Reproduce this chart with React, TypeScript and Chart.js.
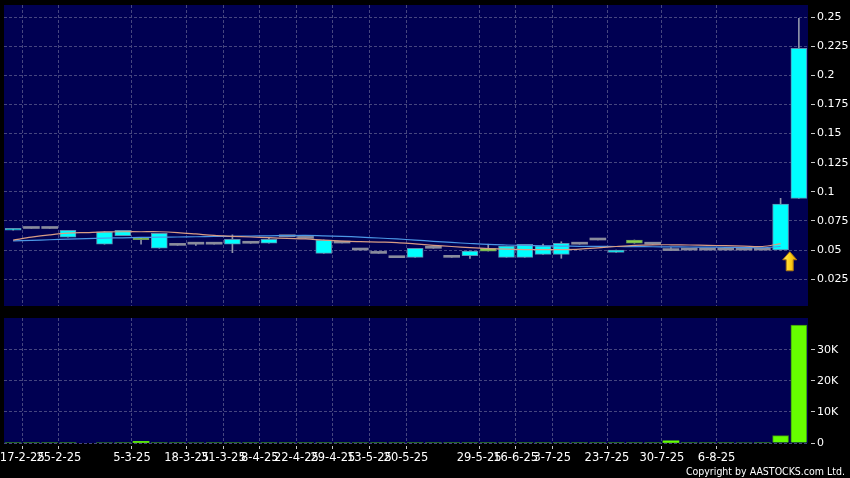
import React, { useEffect, useRef } from 'react';
import { Chart, registerables } from 'chart.js';

Chart.register(...registerables);

// ---- data ----
const SLOT_COUNT = 44;
const OPEN: (number | null)[] = [
  0.067, 0.0685, 0.0685, 0.061, null, 0.055, 0.0623, 0.0606, 0.0515, 0.054,
  0.055, 0.055, 0.055, 0.0558, 0.0558, 0.0614, 0.06, 0.0471, 0.056, 0.05,
  0.0471, 0.0434, 0.0437, 0.0515, 0.0437, 0.0451, 0.0515, 0.0437, 0.0437, 0.0463,
  0.0463, 0.055, 0.0586, 0.048, 0.0586, 0.055, 0.0495, 0.05, 0.05, 0.05,
  0.05, 0.05, 0.05, 0.0944,
];
const CLOSE: (number | null)[] = [
  0.0685, 0.0685, 0.0685, 0.067, null, 0.0657, 0.0669, 0.0588, 0.0643, 0.054,
  0.055, 0.055, 0.0592, 0.0558, 0.0592, 0.0614, 0.06, 0.0586, 0.056, 0.05,
  0.0471, 0.0434, 0.0514, 0.0515, 0.0437, 0.0491, 0.0491, 0.0534, 0.0549, 0.0537,
  0.0558, 0.055, 0.0586, 0.05, 0.0558, 0.055, 0.0495, 0.05, 0.05, 0.05,
  0.05, 0.05, 0.0895, 0.2232,
];
const HIGH: (number | null)[] = [
  0.0685, 0.0685, 0.0685, 0.067, null, 0.0657, 0.0669, 0.0606, 0.0643, 0.054,
  0.055, 0.055, 0.063, 0.0558, 0.0603, 0.0614, 0.06, 0.0586, 0.056, 0.05,
  0.0471, 0.0434, 0.0514, 0.0515, 0.0437, 0.0491, 0.055, 0.0534, 0.0549, 0.055,
  0.0571, 0.055, 0.0586, 0.05, 0.0586, 0.055, 0.052, 0.05, 0.05, 0.05,
  0.05, 0.05, 0.0944, 0.249,
];
const LOW: (number | null)[] = [
  0.067, 0.0685, 0.0685, 0.061, null, 0.055, 0.0623, 0.055, 0.0515, 0.054,
  0.054, 0.055, 0.0477, 0.0558, 0.0558, 0.0614, 0.06, 0.0471, 0.056, 0.05,
  0.0471, 0.0434, 0.0437, 0.0515, 0.0437, 0.0428, 0.0491, 0.0437, 0.0437, 0.0463,
  0.0429, 0.055, 0.0586, 0.048, 0.0558, 0.055, 0.0495, 0.05, 0.05, 0.05,
  0.05, 0.05, 0.05, 0.0944,
];
const MA_SHORT: (number | null)[] = [
  0.0585, 0.061, 0.063, 0.0645, 0.065, 0.0655, 0.0657, 0.0657, 0.0657, 0.065,
  0.0638, 0.0625, 0.0618, 0.0612, 0.0606, 0.06, 0.0595, 0.0585, 0.0577, 0.0572,
  0.0568, 0.0564, 0.0552, 0.054, 0.053, 0.052, 0.0512, 0.0507, 0.0504, 0.0503,
  0.0504, 0.0508, 0.0518, 0.053, 0.054, 0.0545, 0.0545, 0.0543, 0.054, 0.0537,
  0.0533, 0.053, 0.0555, null,
];
const MA_LONG: (number | null)[] = [
  0.0578, 0.0582, 0.0588, 0.0593, 0.0598, 0.0602, 0.0605, 0.0608, 0.061, 0.0612,
  0.0614, 0.0616, 0.0618, 0.062, 0.0622, 0.0624, 0.0625, 0.0622, 0.0617, 0.0611,
  0.0603, 0.0595, 0.0585, 0.0575, 0.0565, 0.0556, 0.0548, 0.0543, 0.0539, 0.0536,
  0.0534, 0.0532, 0.0531, 0.053, 0.0529, 0.0528, 0.0527, 0.0526, 0.0525, 0.0523,
  0.0521, 0.0519, 0.053, null,
];
const VOLUME: (number | null)[] = [
  50, 30, 30, 100, null, 150, 80, 500, 100, 100,
  150, 40, 80, 40, 60, 30, 40, 80, 100, 120,
  40, 50, 80, 30, 30, 60, 60, 80, 80, 60,
  100, 40, 40, 50, 60, 40, 700, 40, 30, 30,
  150, 30, 2400, 38000,
];
const DATE_TICK_SLOTS = [1, 3, 7, 10, 12, 14, 16, 18, 20, 22, 26, 28, 30, 33, 36, 39];
const DATE_TICK_LABELS = [
  '17-2-25', '25-2-25', '5-3-25', '18-3-25', '31-3-25', '8-4-25', '22-4-25', '29-4-25',
  '13-5-25', '20-5-25', '29-5-25', '16-6-25', '3-7-25', '23-7-25', '30-7-25', '6-8-25',
];
const PRICE_TICKS = [0.025, 0.05, 0.075, 0.1, 0.125, 0.15, 0.175, 0.2, 0.225, 0.25];
const VOLUME_TICKS = [0, 10000, 20000, 30000];
const PRICE_MIN = 0.0019;
const PRICE_MAX = 0.2605;
const VOLUME_MAX = 40300;
const ARROW_SLOT = [42.5];
const ARROW_PRICE = [0.0485];

// ---- styles ----
const NAVY = '#000052';
const GRID = '#46467f';
const FONT = "'DejaVu Sans', sans-serif";
const SMALL_FONT = "'DejaVu Sans Condensed', 'DejaVu Sans', sans-serif";
const UP_FILL = '#00ffff';
const UP_BORDER = '#5b8fb0';
const DOWN_FILL = '#8cd24a';
const DOWN_BORDER = '#6a9a5a';
const FLAT_FILL = '#8a8c9c';

const bgPlugin = {
  id: 'navyBg',
  beforeDraw(chart: any) {
    const { ctx, chartArea } = chart;
    ctx.save();
    ctx.fillStyle = NAVY;
    ctx.fillRect(chartArea.left, chartArea.top, chartArea.right - chartArea.left, chartArea.bottom - chartArea.top);
    ctx.restore();
  },
};

const arrowPlugin = {
  id: 'arrowMark',
  afterDatasetsDraw(chart: any) {
    const { ctx, scales } = chart;
    ARROW_SLOT.forEach((s, i) => {
      const x = scales.x.getPixelForValue(s);
      const y = scales.y.getPixelForValue(ARROW_PRICE[i]);
      const hw = 7, sw = 3.5, hh = 8, len = 19;
      ctx.save();
      const g = ctx.createLinearGradient(x - hw, 0, x + hw, 0);
      g.addColorStop(0, '#ffe860');
      g.addColorStop(0.5, '#ffd21a');
      g.addColorStop(1, '#e8a400');
      ctx.beginPath();
      ctx.moveTo(x, y);
      ctx.lineTo(x + hw, y + hh);
      ctx.lineTo(x + sw, y + hh);
      ctx.lineTo(x + sw, y + len);
      ctx.lineTo(x - sw, y + len);
      ctx.lineTo(x - sw, y + hh);
      ctx.lineTo(x - hw, y + hh);
      ctx.closePath();
      ctx.fillStyle = g;
      ctx.fill();
      ctx.strokeStyle = '#b07a10';
      ctx.lineWidth = 1;
      ctx.stroke();
      ctx.restore();
    });
  },
};

const zeroPad = (s: any) => {
  s.paddingLeft = 0;
  s.paddingRight = 0;
  s.paddingTop = 0;
  s.paddingBottom = 0;
};

function xScale(showLabels: boolean) {
  return {
    type: 'linear',
    min: -0.5,
    max: SLOT_COUNT - 0.5,
    offset: false,
    afterBuildTicks: (s: any) => {
      s.ticks = DATE_TICK_SLOTS.map((k) => ({ value: k - 0.5 }));
    },
    afterFit: (s: any) => {
      zeroPad(s);
      if (showLabels) s.height = 22;
    },
    ticks: {
      display: showLabels,
      autoSkip: false,
      maxRotation: 0,
      minRotation: 0,
      padding: 2,
      color: '#ffffff',
      font: { family: FONT, size: 11.5 },
      callback: (_v: any, i: number) => DATE_TICK_LABELS[i],
    },
    grid: {
      offset: false,
      color: GRID,
      drawTicks: showLabels,
      tickLength: 6,
      tickColor: '#c8c8c8',
      tickBorderDash: [0, 3, 3, 50],
    },
    border: { display: false, dash: [3, 2] },
  };
}

function yScale(min: number, max: number, ticks: number[], fmt: (v: number) => string) {
  return {
    type: 'linear',
    position: 'right',
    min,
    max,
    afterBuildTicks: (s: any) => {
      s.ticks = ticks.map((v) => ({ value: v }));
    },
    afterFit: (s: any) => {
      zeroPad(s);
      s.width = 42;
    },
    ticks: {
      color: '#ffffff',
      padding: 2,
      font: { family: FONT, size: 11 },
      callback: (v: any) => fmt(Number(v)),
    },
    grid: {
      color: GRID,
      drawTicks: true,
      tickLength: 7,
      tickColor: '#c8c8c8',
      tickBorderDash: [0, 3, 4, 50],
    },
    border: { display: false, dash: [3, 2] },
  };
}

export default function App() {
  const topRef = useRef<HTMLCanvasElement>(null);
  const botRef = useRef<HTMLCanvasElement>(null);

  useEffect(() => {
    const idx = OPEN.map((o, i) => i).filter((i) => OPEN[i] != null);
    const bodyData = idx.map((i) => ({ x: i, y: [OPEN[i] as number, CLOSE[i] as number] }));
    const dir = idx.map((i) => Math.sign((CLOSE[i] as number) - (OPEN[i] as number)));
    const wickData = idx.map((i) => ({ x: i, y: [LOW[i] as number, HIGH[i] as number] }));
    const maShort = MA_SHORT.map((v, i) => ({ x: i, y: v }));
    const maLong = MA_LONG.map((v, i) => ({ x: i, y: v }));

    const top = new Chart(topRef.current as HTMLCanvasElement, {
      type: 'bar',
      data: {
        datasets: [
          {
            type: 'line',
            label: 'MA short',
            data: maShort as any,
            borderColor: '#d89c84',
            borderWidth: 1.2,
            pointRadius: 0,
            tension: 0.35,
            order: 0,
          },
          {
            type: 'line',
            label: 'MA long',
            data: maLong as any,
            borderColor: '#4b97e6',
            borderWidth: 1.2,
            pointRadius: 0,
            tension: 0.35,
            order: 1,
          },
          {
            label: 'body',
            data: bodyData as any,
            grouped: false,
            barThickness: 16,
            minBarLength: 2,
            backgroundColor: dir.map((d) => (d > 0 ? UP_FILL : d < 0 ? DOWN_FILL : FLAT_FILL)),
            borderColor: dir.map((d) => (d > 0 ? UP_BORDER : d < 0 ? DOWN_BORDER : FLAT_FILL)),
            borderWidth: dir.map((d) => (d === 0 ? 0 : 1)),
            borderSkipped: false,
            order: 2,
          } as any,
          {
            label: 'wick',
            data: wickData as any,
            grouped: false,
            barThickness: 1,
            backgroundColor: '#8f93aa',
            borderWidth: 0,
            order: 3,
          } as any,
        ],
      },
      options: {
        responsive: false,
        animation: false,
        events: [],
        layout: { padding: { left: 4, top: 5, right: 0, bottom: 4 } },
        plugins: { legend: { display: false }, tooltip: { enabled: false } },
        scales: {
          x: xScale(false) as any,
          y: yScale(PRICE_MIN, PRICE_MAX, PRICE_TICKS, (v) => String(+v.toFixed(3))) as any,
        },
      },
      plugins: [bgPlugin, arrowPlugin],
    });

    const volData = VOLUME.map((v, i) => ({ x: i, y: v })).filter((p) => p.y != null);
    const bot = new Chart(botRef.current as HTMLCanvasElement, {
      type: 'bar',
      data: {
        datasets: [
          {
            label: 'volume',
            data: volData as any,
            grouped: false,
            barThickness: 16,
            backgroundColor: volData.map((p) => ((p.y as number) >= 400 ? '#66ff00' : '#2c7a20')),
            borderColor: '#3d8f12',
            borderWidth: volData.map((p) => ((p.y as number) >= 1000 ? 1 : 0)),
          } as any,
        ],
      },
      options: {
        responsive: false,
        animation: false,
        events: [],
        layout: { padding: { left: 4, top: 6, right: 0, bottom: 13 } },
        plugins: { legend: { display: false }, tooltip: { enabled: false } },
        scales: {
          x: xScale(true) as any,
          y: yScale(0, VOLUME_MAX, VOLUME_TICKS, (v) => (v === 0 ? '0' : v / 1000 + 'K')) as any,
        },
      },
      plugins: [bgPlugin],
    });

    return () => {
      top.destroy();
      bot.destroy();
    };
  }, []);

  return (
    <div style={{ position: 'fixed', left: 0, top: 0, width: 850, height: 478, background: '#000', overflow: 'hidden' }}>
      <canvas ref={topRef} width={850} height={310} style={{ position: 'absolute', left: 0, top: 0, width: 850, height: 310 }} />
      <canvas ref={botRef} width={850} height={166} style={{ position: 'absolute', left: 0, top: 312, width: 850, height: 166 }} />
      <div
        style={{
          position: 'absolute',
          right: 5,
          top: 465,
          color: '#ffffff',
          fontFamily: SMALL_FONT,
          fontSize: 10.5,
          lineHeight: '12px',
          whiteSpace: 'nowrap',
        }}
      >
        Copyright by AASTOCKS.com Ltd.
      </div>
    </div>
  );
}
